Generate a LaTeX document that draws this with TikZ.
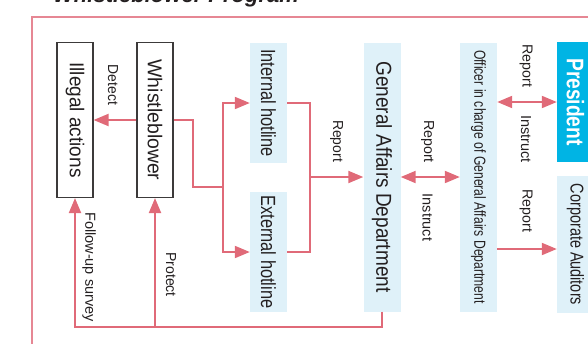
\documentclass[tikz,border=0pt]{standalone}
\usepackage{fontspec}
\usepackage{graphicx}
\setmainfont{Liberation Sans}
\usetikzlibrary{arrows.meta}
\definecolor{arrc}{RGB}{224,106,120}
\definecolor{framec}{RGB}{230,135,148}
\definecolor{lblue}{RGB}{223,241,249}
\definecolor{pblue}{RGB}{0,180,228}
\definecolor{txtc}{RGB}{35,31,32}
\definecolor{boxc}{RGB}{60,58,58}
\newcommand\tx[3]{{\fontsize{#1}{#1}\selectfont\scalebox{#2}[1]{#3}}}
\newcommand\rtx[3]{\rotatebox{-90}{\tx{#1}{#2}{#3}}}
\tikzset{
  wbox/.style={draw=boxc, line width=1.1pt, fill=white, inner sep=0pt, text=txtc, minimum width=36pt},
  bbox/.style={fill=lblue, inner sep=0pt, text=txtc, minimum width=37pt},
  lbl/.style={inner sep=0pt, text=txtc},
  conn/.style={draw=arrc, line width=2pt},
  arr/.style={conn, -{Triangle[length=15pt,width=12pt]}},
  arrtwo/.style={conn, {Triangle[length=15pt,width=12pt]}-{Triangle[length=15pt,width=12pt]}}
}
\begin{document}
\begin{tikzpicture}[x=1pt,y=-1pt]
\useasboundingbox (0,0) rectangle (588,343);
\clip (0,0) rectangle (588,343);
% title (cut off at the top)
\node[anchor=base west, inner sep=0pt, text=txtc, font=\bfseries\itshape\fontsize{22}{22}\selectfont] (title) at (53,2.5) {Whistleblower Program};
% frame
\draw[framec, line width=1.1pt] (32,17) rectangle (620,380);
% boxes
\node[wbox, minimum height=155pt] (ill) at (75,120) {\rtx{20}{0.95}{Illegal actions}};
\node[wbox, minimum height=155pt] (wb) at (155,120) {\rtx{20}{0.97}{Whistleblower}};
\node[bbox, minimum height=120pt] (ih) at (268.5,103) {\rtx{20.5}{0.8}{Internal hotline}};
\node[bbox, minimum height=120pt] (eh) at (268.5,252) {\rtx{20.5}{0.8}{External hotline}};
\node[bbox, minimum height=269pt] (gad) at (382,177) {\rtx{21.6}{0.88}{General Affairs Department}};
\node[bbox, minimum height=269pt] (off) at (478.5,177) {\rtx{16}{0.76}{Officer in charge of General Affairs Department}};
\node[fill=pblue, inner sep=0pt, text=white, minimum width=37pt, minimum height=120pt] (pres) at (575.5,102) {\rotatebox{-90}{\bfseries\tx{24}{0.8}{President}}};
\node[bbox, minimum height=137pt] (aud) at (575.5,244.5) {\rtx{18.5}{0.78}{Corporate Auditors}};
% junctions
\coordinate (j1) at (223,187);
\coordinate (j2) at (310,177);
\coordinate (bl) at (75,327);
% connectors
\draw[arr] (wb.west) -- (ill.east);
\draw[conn] (wb.east) -- (193,120) |- (j1);
\draw[arr] (j1) |- (ih.west);
\draw[arr] (j1) |- (eh.west);
\draw[conn] (ih.east) -| (j2);
\draw[conn] (eh.east) -| (j2);
\draw[arr] (j2) -- (gad.west);
\draw[arrtwo] (gad.east) -- (off.west);
\draw[arrtwo] (off.east |- pres.west) -- (pres.west);
\draw[arr] (off.east |- 0,249) -- (aud.west |- 0,249);
\draw[arr] (gad.south) |- (bl) -- (ill.south);
\draw[arr] (wb.south |- bl) -- (wb.south);
% labels
\node[lbl] (ldetect) at (113,85) {\rtx{14.5}{0.96}{Detect}};
\node[lbl] (lrep1) at (336.5,141) {\rtx{14.5}{0.96}{Report}};
\node[lbl] (lfollow) at (89,267) {\rtx{14.5}{1.0}{Follow-up survey}};
\node[lbl] (lprot) at (171,274.5) {\rtx{14.5}{0.97}{Protect}};
\node[lbl] (lrep2) at (427.5,141.5) {\rtx{14.5}{0.98}{Report}};
\node[lbl] (lins2) at (427.5,217.5) {\rtx{14.5}{1.0}{Instruct}};
\node[lbl] (lrep3) at (526,66) {\rtx{14.5}{0.98}{Report}};
\node[lbl] (lins3) at (526,139) {\rtx{14.5}{1.0}{Instruct}};
\node[lbl] (lrep4) at (526,211) {\rtx{14.5}{0.98}{Report}};
\end{tikzpicture}
\end{document}
